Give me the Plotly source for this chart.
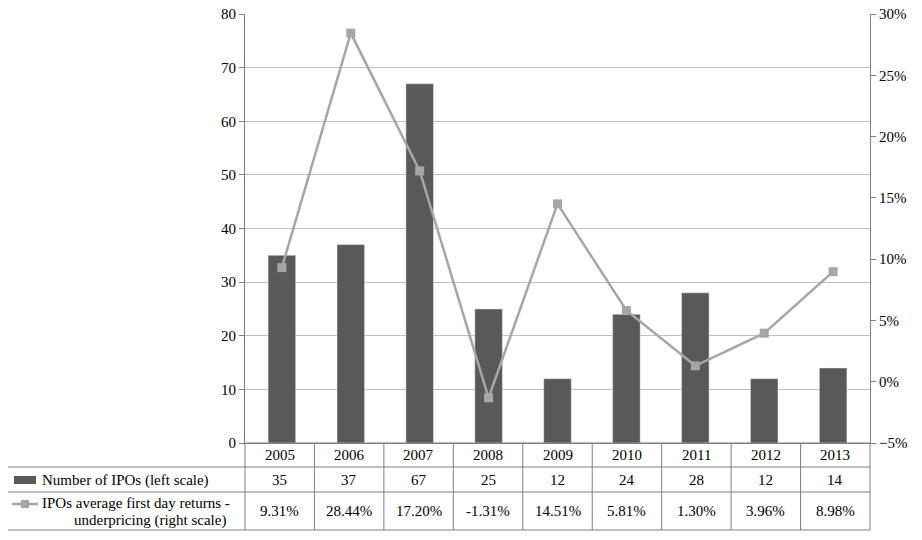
import plotly.graph_objects as go

years = ["2005","2006","2007","2008","2009","2010","2011","2012","2013"]
ipos = [35,37,67,25,12,24,28,12,14]
returns = [9.31,28.44,17.20,-1.31,14.51,5.81,1.30,3.96,8.98]
ret_labels = ["9.31%","28.44%","17.20%","-1.31%","14.51%","5.81%","1.30%","3.96%","8.98%"]

O = 8  # page body offset
L, R, T, B = 245, 870, 14, 443
W, H = R-L, B-T
def px(x): return (x-L)/W
def py(y): return (B-y)/H

FONT = "Liberation Serif"
fig = go.Figure()
fig.add_bar(x=years, y=ipos, marker_color="#595959", width=0.4, yaxis="y")
fig.add_scatter(x=years, y=returns, yaxis="y2", mode="lines+markers",
                line=dict(color="#a6a6a6", width=2.5),
                marker=dict(symbol="square", size=9, color="#a6a6a6"))

shapes = []
line = dict(color="#7f7f7f", width=1)
cw = W/9
shapes.append(dict(type="line", xref="paper", yref="paper", x0=px(L), x1=px(R), y0=py(443), y1=py(443), line=line))
for yy in (467, 492, 530):
    shapes.append(dict(type="line", xref="paper", yref="paper", x0=px(5), x1=px(R), y0=py(yy), y1=py(yy), line=line))
for k in range(10):
    xx = L + cw*k
    shapes.append(dict(type="line", xref="paper", yref="paper", x0=px(xx), x1=px(xx), y0=py(443), y1=py(530), line=line))
shapes.append(dict(type="line", xref="paper", yref="paper", x0=px(5), x1=px(5), y0=py(467), y1=py(530), line=line))
shapes.append(dict(type="rect", xref="paper", yref="paper", x0=px(14), x1=px(36), y0=py(484), y1=py(476), fillcolor="#595959", line=dict(width=0)))
shapes.append(dict(type="line", xref="paper", yref="paper", x0=px(12), x1=px(38), y0=py(504), y1=py(504), line=dict(color="#a6a6a6", width=2.5)))
shapes.append(dict(type="rect", xref="paper", yref="paper", x0=px(21), x1=px(29), y0=py(508), y1=py(500), fillcolor="#a6a6a6", line=dict(width=0)))

ann = []
f = dict(family=FONT, size=15, color="black")
for i in range(9):
    xc = px(L + cw*(i+0.5))
    ann.append(dict(x=xc, y=py(455), text=years[i]))
    ann.append(dict(x=xc, y=py(480), text=str(ipos[i])))
    ann.append(dict(x=xc, y=py(511), text=ret_labels[i]))
ann.append(dict(x=px(40), y=py(480), text="Number of IPOs (left scale)", xanchor="left"))
ann.append(dict(x=px(40), y=py(503), text="IPOs average first day returns -", xanchor="left"))
ann.append(dict(x=px(72), y=py(520), text="underpricing (right scale)", xanchor="left"))
for a in ann:
    a.update(xref="paper", yref="paper", showarrow=False, font=f, yanchor="middle")
    a.setdefault("xanchor", "center")

fig.update_layout(
    width=922, height=540,
    margin=dict(l=L-O, r=922-R+O, t=T-O, b=540-B+O, autoexpand=False),
    paper_bgcolor="white", plot_bgcolor="white", showlegend=False,
    font=f, shapes=shapes, annotations=ann,
    xaxis=dict(showticklabels=False, showline=True, linecolor="#7f7f7f", ticks="", automargin=False),
    yaxis=dict(range=[0,80], dtick=10, showgrid=True, gridcolor="#bfbfbf", automargin=False,
               ticklabeloverflow="allow", tickfont=f,
               showline=True, linecolor="#7f7f7f", ticks="outside", ticklen=5, tickcolor="#7f7f7f", zeroline=False),
    yaxis2=dict(range=[-5,30], dtick=5, overlaying="y", side="right", ticksuffix="%", automargin=False,
                ticklabeloverflow="allow", tickfont=f,
                showgrid=False, showline=True, linecolor="#7f7f7f", ticks="outside", ticklen=5,
                tickcolor="#7f7f7f", zeroline=False),
)
fig.write_html("out.html")
